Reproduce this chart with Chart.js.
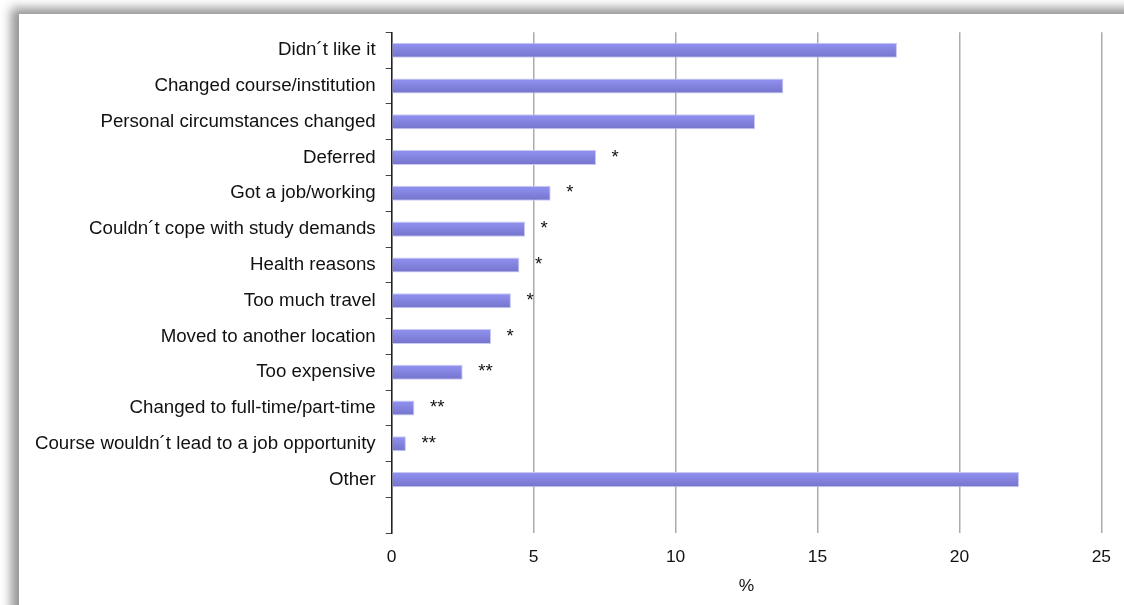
<!DOCTYPE html>
<html>
<head>
<meta charset="utf-8">
<script src="https://cdn.jsdelivr.net/npm/chart.js@4"></script>
<style>
  html, body { margin: 0; padding: 0; background: #ffffff; overflow: hidden; }
  body { width: 1124px; height: 605px; position: relative; }
  #panel {
    position: absolute; left: 19px; top: 14px; width: 1200px; height: 700px;
    background: #ffffff;
    box-shadow: -8px -6px 10px 0 rgba(0, 0, 0, 0.42);
  }
  #wrap { position: absolute; left: 0; top: 0; width: 1124px; height: 605px; }
</style>
</head>
<body>
<div id="panel"></div>
<div id="wrap"><canvas id="chart" width="1124" height="605"></canvas></div>
<script>
// Reasons for leaving the course (% of respondents)
const categories = [
  'Didn´t like it',
  'Changed course/institution',
  'Personal circumstances changed',
  'Deferred',
  'Got a job/working',
  'Couldn´t cope with study demands',
  'Health reasons',
  'Too much travel',
  'Moved to another location',
  'Too expensive',
  'Changed to full-time/part-time',
  'Course wouldn´t lead to a job opportunity',
  'Other',
  ''
];
const percents = [17.8, 13.8, 12.8, 7.2, 5.6, 4.7, 4.5, 4.2, 3.5, 2.5, 0.8, 0.5, 22.1, null];
// reliability markers shown after the bars
const notes = ['', '', '', '*', '*', '*', '*', '*', '*', '**', '**', '**', '', ''];
const xTicks = [0, 5, 10, 15, 20, 25];
const xTitle = '%';

const FONT = "'Liberation Sans', Arial, Helvetica, sans-serif";

function barFill(c) {
  const chart = c.chart;
  const y = chart.scales && chart.scales.y;
  if (!chart.chartArea || !y) return '#8080e0';
  const py = y.getPixelForValue(c.dataIndex);
  const g = chart.ctx.createLinearGradient(0, py - 7.5, 0, py + 7.5);
  g.addColorStop(0, '#9292f2');
  g.addColorStop(1, '#7474cc');
  return g;
}

const notesPlugin = {
  id: 'notes',
  afterDatasetsDraw(chart) {
    const ctx = chart.ctx;
    const meta = chart.getDatasetMeta(0);
    ctx.save();
    ctx.font = '18.6px ' + FONT;
    ctx.fillStyle = '#111111';
    ctx.textAlign = 'left';
    ctx.textBaseline = 'middle';
    meta.data.forEach((bar, i) => {
      if (!notes[i]) return;
      ctx.fillText(notes[i], bar.x + 15.5, bar.y);
    });
    ctx.restore();
  }
};

new Chart(document.getElementById('chart'), {
  type: 'bar',
  data: {
    labels: categories,
    datasets: [{
      data: percents,
      backgroundColor: barFill,
      borderColor: '#c9c9f2',
      borderWidth: 1,
      barPercentage: 0.42,
      categoryPercentage: 1
    }]
  },
  options: {
    indexAxis: 'y',
    responsive: false,
    animation: false,
    events: [],
    layout: { padding: { top: 32.3, right: 22.3, bottom: 0, left: 0 } },
    plugins: { legend: { display: false }, tooltip: { enabled: false } },
    scales: {
      x: {
        type: 'linear',
        min: 0,
        max: 25,
        afterBuildTicks(scale) { scale.ticks = xTicks.map(v => ({ value: v })); },
        afterFit(scale) { scale.height = 71.7; },
        grid: { color: '#ababab', lineWidth: 1.5, drawTicks: false },
        border: { display: false },
        ticks: { color: '#111111', font: { family: FONT, size: 17.4 }, padding: 13, maxRotation: 0 },
        title: { display: true, text: xTitle, color: '#111111', font: { family: FONT, size: 17.4 }, padding: { top: 0, bottom: 8 } }
      },
      y: {
        afterFit(scale) { scale.width = 391.7; },
        grid: { drawOnChartArea: false, offset: true, tickLength: 6, color: '#444444', lineWidth: 1 },
        border: { display: true, color: '#222222', width: 1.5 },
        ticks: { color: '#111111', font: { family: FONT, size: 18.7 }, padding: 10, autoSkip: false }
      }
    }
  },
  plugins: [notesPlugin]
});
</script>
</body>
</html>
